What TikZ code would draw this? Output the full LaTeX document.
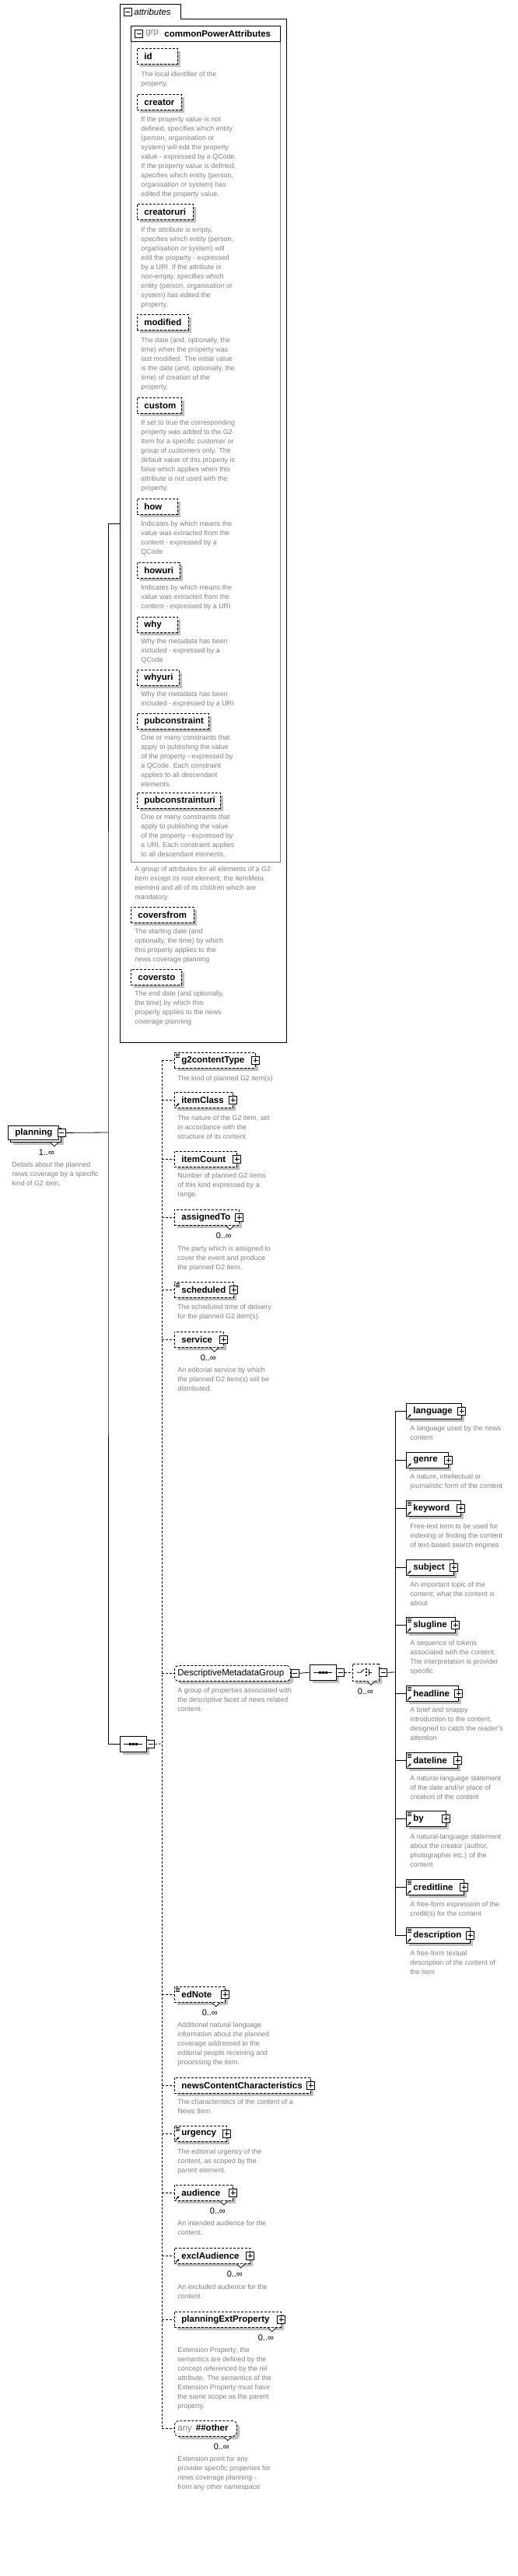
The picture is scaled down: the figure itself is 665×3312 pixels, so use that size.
\documentclass[tikz,border=0pt]{standalone}
\usepackage{fontspec}
\setmainfont{Liberation Sans}
\usetikzlibrary{shadows, shapes.misc, arrows.meta}

\hyphenpenalty=10000
\newcommand{\namefont}{\fontsize{11.5}{13}\selectfont}
\newcommand{\descfont}{\fontsize{8.9}{12}\selectfont}

\tikzset{
    shadowed/.style={drop shadow={shadow xshift=4pt, shadow yshift=-4pt, fill=black!25, opacity=1}},
    namebox/.style={draw, fill=white, anchor=north west, minimum height=20pt,
        inner xsep=9pt, inner ysep=0pt, align=left, font=\namefont\bfseries},
    attrbox/.style={namebox, shadowed, dash pattern=on 3pt off 2pt},
    elembox/.style={namebox, shadowed},
    grpbox/.style={attrbox, rounded corners=5pt, inner xsep=4pt, font=\namefont},
    desc/.style={anchor=north west, inner sep=0pt, align=left, text=black!50, font=\descfont},
    mult/.style={inner sep=0pt, font=\fontsize{11}{13}\selectfont},
    dline/.style={dash pattern=on 3pt off 2pt},
    signbox/.style={draw, solid, fill=white, minimum size=10pt, inner sep=0pt},
    plusbox/.style={signbox, path picture={
        \draw ([xshift=2pt]path picture bounding box.west) -- ([xshift=-2pt]path picture bounding box.east)
              ([yshift=2pt]path picture bounding box.south) -- ([yshift=-2pt]path picture bounding box.north);}},
    minusbox/.style={signbox, path picture={
        \draw ([xshift=2pt]path picture bounding box.west) -- ([xshift=-2pt]path picture bounding box.east);}},
    seqbox/.style={chamfered rectangle, chamfered rectangle xsep=5pt, draw, fill=white, shadowed,
        minimum width=34pt, minimum height=20pt, inner sep=0pt, anchor=north west},
    txtmark/.pic={\draw[solid, line width=0.7pt] (1.5,2.5) -- ++(5,0) (1.5,4.5) -- ++(5,0) (1.5,6.5) -- ++(5,0);},
    refmark/.pic={\draw[solid, line width=1pt, -{Stealth[length=3pt, width=3pt]}] (2,-2) -- (6.5,-6.5);},
    notch/.pic={\filldraw[solid, fill=white, line width=0.7pt] (-5,0) -- (0,5) -- (5,0);},
    seqmark/.pic={\draw[solid] (-12,0) -- (12,0);
        \foreach \d in {-4,0,4} \fill (\d-1.5,-1.5) rectangle (\d+1.5,1.5);},
    choicemark/.pic={\draw[solid] (-11,0) -- (-6,0) -- (-2,-4);
        \foreach \d in {-4,0,4} \fill (-0.5,\d-1.2) rectangle (2,\d+1.2);
        \draw[solid] (4,-4) -- (4,4) (4,0) -- (8,0);}
}

\begin{document}
\begin{tikzpicture}[x=1pt, y=-1pt, >=Stealth, line width=0.8pt]

    \useasboundingbox (0,0) rectangle (665,3312);

    % ==========================================
    % 1. ATTRIBUTES CONTAINER
    % ==========================================
    \node[minimum width=214pt, minimum height=1335pt, anchor=north west, inner sep=0pt] (attrs) at (154,5) {};
    \draw (attrs.south west) -- (attrs.north west) -- ++(78,0) -- ++(0,19) -| (attrs.south east) -- cycle;
    \node[minusbox] (attrs-x) at (164,15) {};
    \node[anchor=west, inner sep=0pt, font=\namefont\itshape] (attrs-t) at (172,15) {attributes};

    % group commonPowerAttributes (gray body, black header)
    \node[draw=black!50, anchor=north west, minimum width=192pt, minimum height=1075pt, inner sep=0pt] (grp) at (168,33) {};
    \node[draw, anchor=north west, minimum width=192pt, minimum height=20pt, inner sep=0pt] (grp-h) at (168,33) {};
    \node[minusbox] (grp-x) at (178.5,43) {};
    \node[anchor=west, inner sep=0pt, text=black!50, font=\namefont] (grp-k) at (187,43) {grp};
    \node[anchor=west, inner sep=0pt, font=\namefont\bfseries] (grp-n) at (211,43) {commonPowerAttributes};

    \node[attrbox, text width=34pt] (id) at (176,62) {id};
    \node[desc] (id-d) at (181,92) {The local identifier of the\\property.};
    \node[attrbox, text width=39pt] (creator) at (176,121) {creator};
    \node[desc] (creator-d) at (181,150) {If the property value is not\\defined, specifies which entity\\(person, organisation or\\system) will edit the property\\value - expressed by a QCode.\\If the property value is defined,\\specifies which entity (person,\\organisation or system) has\\edited the property value.};
    \node[attrbox, text width=54pt] (creatoruri) at (176,262) {creatoruri};
    \node[desc] (creatoruri-d) at (181,292) {If the attribute is empty,\\specifies which entity (person,\\organisation or system) will\\edit the property - expressed\\by a URI. If the attribute is\\non-empty, specifies which\\entity (person, organisation or\\system) has edited the\\property.};
    \node[attrbox, text width=48pt] (modified) at (176,404) {modified};
    \node[desc] (modified-d) at (181,434) {The date (and, optionally, the\\time) when the property was\\last modified. The initial value\\is the date (and, optionally, the\\time) of creation of the\\property.};
    \node[attrbox, text width=39pt] (custom) at (176,511) {custom};
    \node[desc] (custom-d) at (181,540) {If set to true the corresponding\\property was added to the G2\\Item for a specific customer or\\group of customers only. The\\default value of this property is\\false which applies when this\\attribute is not used with the\\property.};
    \node[attrbox, text width=34pt] (how) at (176,641) {how};
    \node[desc] (how-d) at (181,670) {Indicates by which means the\\value was extracted from the\\content - expressed by a\\QCode};
    \node[attrbox, text width=37pt] (howuri) at (176,723) {howuri};
    \node[desc] (howuri-d) at (181,752) {Indicates by which means the\\value was extracted from the\\content - expressed by a URI};
    \node[attrbox, text width=34pt] (why) at (176,793) {why};
    \node[desc] (why-d) at (181,821) {Why the metadata has been\\included - expressed by a\\QCode};
    \node[attrbox, text width=36pt] (whyuri) at (176,861) {whyuri};
    \node[desc] (whyuri-d) at (181,889) {Why the metadata has been\\included - expressed by a URI};
    \node[attrbox, text width=74pt] (pubconstraint) at (176,917) {pubconstraint};
    \node[desc] (pubconstraint-d) at (181,945) {One or many constraints that\\apply to publishing the value\\of the property - expressed by\\a QCode. Each constraint\\applies to all descendant\\elements.};
    \node[attrbox, text width=89pt] (pubconstrainturi) at (176,1019) {pubconstrainturi};
    \node[desc] (pubconstrainturi-d) at (181,1047) {One or many constraints that\\apply to publishing the value\\of the property - expressed by\\a URI. Each constraint applies\\to all descendant elements.};
    \node[desc] (grp-d) at (173,1114) {A group of attributes for all elements of a G2\\Item except its root element, the itemMeta\\element and all of its children which are\\mandatory.};

    \node[attrbox, text width=63pt] (coversfrom) at (168,1166) {coversfrom};
    \node[desc] (coversfrom-d) at (173,1194) {The starting date (and\\optionally, the time) by which\\this property applies to the\\news coverage planning};
    \node[attrbox, text width=47pt] (coversto) at (168,1246) {coversto};
    \node[desc] (coversto-d) at (173,1274) {The end date (and optionally,\\the time) by which this\\property applies to the news\\coverage planning};

    % ==========================================
    % 2. ROOT ELEMENT
    % ==========================================
    \node[draw, fill=white, shadowed, anchor=north west, minimum width=65pt, minimum height=18pt, inner sep=0pt] (planning-bk) at (13,1450) {};
    \node[namebox, minimum height=18pt, text width=47pt] (planning) at (10,1447) {planning};
    \node[minusbox, anchor=west] (planning-x) at ([xshift=-2pt]planning.east) {};
    \pic at ([xshift=-9pt]planning-bk.south east) {notch};
    \node[mult] (planning-m) at (60,1482) {1..∞};
    \node[desc] (planning-d) at (15,1494) {Details about the planned\\news coverage by a specific\\kind of G2 item.};

    % outer sequence
    \node[seqbox] (seqA) at (154,2232) {};
    \pic at (seqA.center) {seqmark};
    \node[minusbox, anchor=west] (seqA-x) at (seqA.east) {};

    % ==========================================
    % 3. CHILD ELEMENTS OF THE SEQUENCE
    % ==========================================
    \node[attrbox, text width=86pt] (gct) at (224,1353) {g2contentType};
    \pic at (gct.north west) {txtmark};
    \node[plusbox] (gct-x) at (gct.east) {};
    \node[desc] (gct-d) at (228,1383) {The kind of planned G2 item(s)};

    \node[attrbox, text width=57pt] (icls) at (224,1404) {itemClass};
    \pic at (icls.south west) {refmark};
    \node[plusbox] (icls-x) at (icls.east) {};
    \node[desc] (icls-d) at (228,1434) {The nature of the G2 item, set\\in accordance with the\\structure of its content.};

    \node[attrbox, text width=62pt] (icnt) at (224,1480) {itemCount};
    \node[plusbox] (icnt-x) at (icnt.east) {};
    \node[desc] (icnt-d) at (228,1508) {Number of planned G2 items\\of this kind expressed by a\\range.};

    \node[attrbox, text width=65pt] (asg) at (224,1555) {assignedTo};
    \node[plusbox] (asg-x) at (asg.east) {};
    \pic at ([xshift=-12pt]asg.south east) {notch};
    \node[mult] (asg-m) at ([shift={(-20,13)}]asg.south east) {0..∞};
    \node[desc] (asg-d) at (228,1602) {The party which is assigned to\\cover the event and produce\\the planned G2 item.};

    \node[attrbox, text width=58pt] (sched) at (224,1648) {scheduled};
    \pic at (sched.north west) {txtmark};
    \node[plusbox] (sched-x) at (sched.east) {};
    \node[desc] (sched-d) at (228,1677) {The scheduled time of delivery\\for the planned G2 item(s).};

    \node[attrbox, text width=45pt] (serv) at (224,1712) {service};
    \node[plusbox] (serv-x) at (serv.east) {};
    \pic at ([xshift=-12pt]serv.south east) {notch};
    \node[mult] (serv-m) at ([shift={(-20,13)}]serv.south east) {0..∞};
    \node[desc] (serv-d) at (228,1758) {An editorial service by which\\the planned G2 item(s) will be\\distributed.};

    \node[grpbox, text width=141pt] (dmg) at (224,2141) {DescriptiveMetadataGroup};
    \node[minusbox, anchor=west] (dmg-x) at (dmg.east) {};
    \node[desc] (dmg-d) at (228,2170) {A group of properties associated with\\the descriptive facet of news related\\content.};

    \node[seqbox] (seqB) at (398,2140) {};
    \pic at (seqB.center) {seqmark};
    \node[minusbox, anchor=west] (seqB-x) at (seqB.east) {};
    \node[seqbox, dash pattern=on 3pt off 2pt, minimum height=22pt] (choice) at (453,2139) {};
    \pic at (choice.center) {choicemark};
    \pic at ([xshift=-10pt]choice.south east) {notch};
    \node[minusbox, anchor=west] (choice-x) at (choice.east) {};
    \node[mult] (choice-m) at (470,2175) {0..∞};

    \node[attrbox, text width=47pt] (ednote) at (224,2554) {edNote};
    \pic at (ednote.north west) {txtmark};
    \node[plusbox] (ednote-x) at (ednote.east) {};
    \pic at ([xshift=-12pt]ednote.south east) {notch};
    \node[mult] (ednote-m) at ([shift={(-20,13)}]ednote.south east) {0..∞};
    \node[desc] (ednote-d) at (228,2600) {Additional natural language\\information about the planned\\coverage addressed to the\\editorial people receiving and\\processing the item.};

    \node[attrbox, text width=157pt] (ncc) at (224,2671) {newsContentCharacteristics};
    \node[plusbox] (ncc-x) at (ncc.east) {};
    \node[desc] (ncc-d) at (228,2699) {The characteristics of the content of a\\News Item};

    \node[attrbox, text width=49pt] (urg) at (224,2733) {urgency};
    \pic at (urg.north west) {txtmark};
    \pic at (urg.south west) {refmark};
    \node[plusbox] (urg-x) at (urg.east) {};
    \node[desc] (urg-d) at (228,2763) {The editorial urgency of the\\content, as scoped by the\\parent element.};

    \node[attrbox, text width=57pt] (aud) at (224,2809) {audience};
    \pic at (aud.south west) {refmark};
    \node[plusbox] (aud-x) at (aud.east) {};
    \pic at ([xshift=-12pt]aud.south east) {notch};
    \node[mult] (aud-m) at ([shift={(-20,13)}]aud.south east) {0..∞};
    \node[desc] (aud-d) at (228,2855) {An intended audience for the\\content.};

    \node[attrbox, text width=79pt] (excl) at (224,2890) {exclAudience};
    \pic at (excl.south west) {refmark};
    \node[plusbox] (excl-x) at (excl.east) {};
    \pic at ([xshift=-12pt]excl.south east) {notch};
    \node[mult] (excl-m) at ([shift={(-20,13)}]excl.south east) {0..∞};
    \node[desc] (excl-d) at (228,2937) {An excluded audience for the\\content.};

    \node[attrbox, text width=119pt] (pep) at (224,2972) {planningExtProperty};
    \node[plusbox] (pep-x) at (pep.east) {};
    \pic at ([xshift=-12pt]pep.south east) {notch};
    \node[mult] (pep-m) at ([shift={(-20,13)}]pep.south east) {0..∞};
    \node[desc] (pep-d) at (228,3018) {Extension Property; the\\semantics are defined by the\\concept referenced by the rel\\attribute. The semantics of the\\Extension Property must have\\the same scope as the parent\\property.};

    \node[grpbox, text width=72pt] (anyo) at (224,3112) {{\color{black!50}any}\hspace{5pt}\textbf{\#\#other}};
    \pic at ([xshift=-12pt]anyo.south east) {notch};
    \node[mult] (anyo-m) at ([shift={(-20,13)}]anyo.south east) {0..∞};
    \node[desc] (anyo-d) at (228,3158) {Extension point for any\\provider specific properties for\\news coverage planning -\\from any other namespace};

    % ==========================================
    % 4. DESCRIPTIVE METADATA CHOICE
    % ==========================================
    \node[elembox, text width=53pt] (lang) at (522,1804) {language};
    \node[elembox, text width=36pt] (genre) at (522,1867) {genre};
    \node[elembox, text width=52pt] (kw) at (522,1929) {keyword};
    \node[elembox, text width=43pt] (subj) at (522,2005) {subject};
    \node[elembox, text width=45pt] (slug) at (522,2079) {slugline};
    \node[elembox, text width=49pt] (head) at (522,2167) {headline};
    \node[elembox, text width=48pt] (date) at (522,2253) {dateline};
    \node[elembox, text width=33pt] (by) at (522,2328) {by};
    \node[elembox, text width=56pt] (credit) at (522,2416) {creditline};
    \node[elembox, text width=64pt] (descr) at (522,2478) {description};
    \foreach \n in {lang,genre,kw,subj,slug,head,date,by,credit,descr} {
        \pic at (\n.south west) {refmark};
        \node[plusbox] (\n-x) at (\n.east) {};
    }
    \foreach \n in {kw,slug,head,date,by,credit,descr}
        \pic at (\n.north west) {txtmark};

    \node[desc] (lang-d) at (527,1833) {A language used by the news\\content};
    \node[desc] (genre-d) at (527,1895) {A nature, intellectual or\\journalistic form of the content};
    \node[desc] (kw-d) at (527,1959) {Free-text term to be used for\\indexing or finding the content\\of text-based search engines};
    \node[desc] (subj-d) at (527,2034) {An important topic of the\\content; what the content is\\about};
    \node[desc] (slug-d) at (527,2109) {A sequence of tokens\\associated with the content.\\The interpretation is provider\\specific};
    \node[desc] (head-d) at (527,2195) {A brief and snappy\\introduction to the content,\\designed to catch the reader's\\attention};
    \node[desc] (date-d) at (527,2283) {A natural-language statement\\of the date and/or place of\\creation of the content};
    \node[desc] (by-d) at (527,2358) {A natural-language statement\\about the creator (author,\\photographer etc.) of the\\content};
    \node[desc] (credit-d) at (527,2445) {A free-form expression of the\\credit(s) for the content};
    \node[desc] (descr-d) at (527,2508) {A free-form textual\\description of the content of\\the item};

    % ==========================================
    % 5. CONNECTORS
    % ==========================================
    \coordinate (trunk) at (139,1456);
    \coordinate (spine) at (208,2242);
    \coordinate (bus) at (508,2150);

    \draw (planning-x.east) -- (trunk);
    \draw (attrs.west) -| (trunk) |- (seqA.west);

    \draw[dline] (seqA-x.east) -- (spine);
    \draw[dline] (gct.west -| spine) -- (anyo.west -| spine);
    \foreach \n in {gct,icls,icnt,asg,sched,serv,dmg,ednote,ncc,urg,aud,excl,pep,anyo}
        \draw[dline] (\n.west -| spine) -- (\n.west);

    \draw (dmg-x.east) -- (seqB.west);
    \draw[dline] (seqB-x.east) -- (choice.west);
    \draw (choice-x.east) -- (bus);
    \draw (lang.west -| bus) -- (descr.west -| bus);
    \foreach \n in {lang,genre,kw,subj,slug,head,date,by,credit,descr}
        \draw (\n.west -| bus) -- (\n.west);

\end{tikzpicture}
\end{document}
